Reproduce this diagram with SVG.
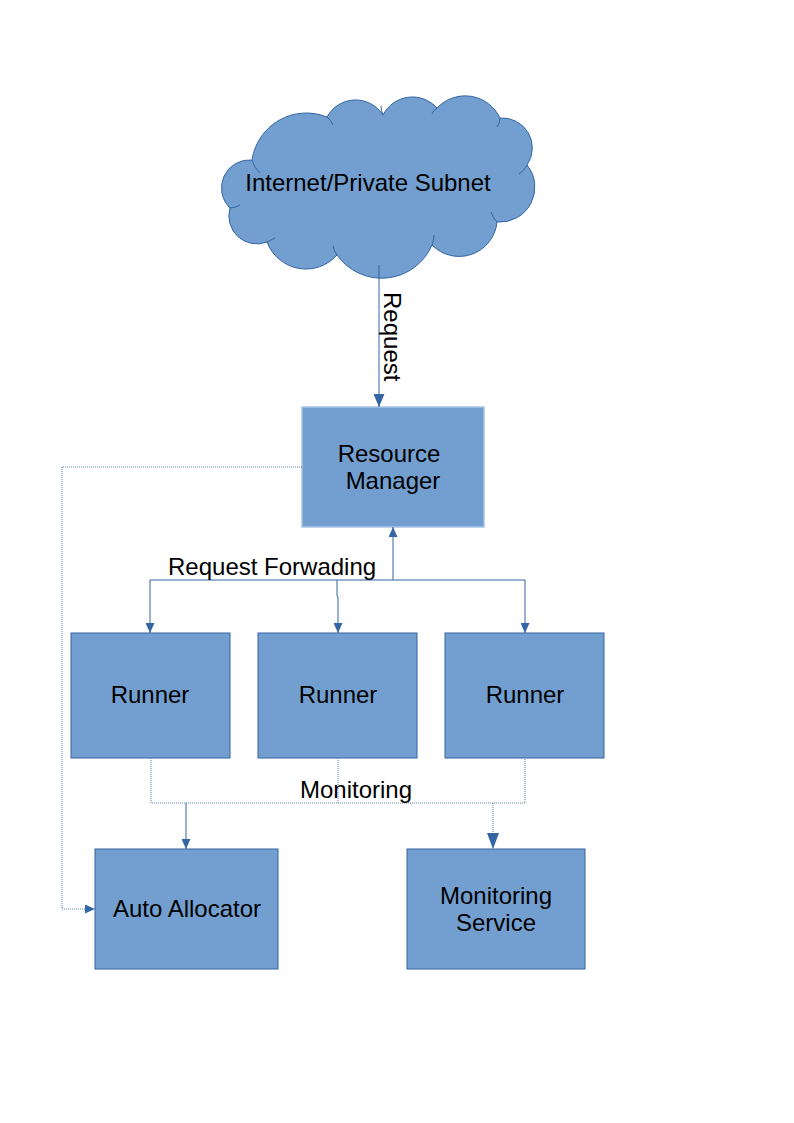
<svg xmlns="http://www.w3.org/2000/svg" width="794" height="1123" viewBox="0 0 794 1123">
<style>
.box{fill:#729fcf;stroke:#3465a4;stroke-width:1}
.rm{fill:#729fcf;stroke:#a8c4e6;stroke-width:1.5}
.t{font-family:"Liberation Sans",Arial,sans-serif;font-size:24px;fill:#000}
.c{text-anchor:middle}
.solid{fill:none;stroke:#3465a4;stroke-width:1}
.dot{fill:none;stroke:#5b7fb0;stroke-width:1;stroke-dasharray:1 1}
.inner{fill:none;stroke:#3465a4;stroke-width:1}
</style>
<defs>
<marker id="a" markerUnits="userSpaceOnUse" markerWidth="10" markerHeight="9" refX="10" refY="4.5" orient="auto"><path d="M0,0 L10,4.5 L0,9 z" fill="#3465a4"/></marker>
<marker id="aL" markerUnits="userSpaceOnUse" markerWidth="13" markerHeight="11" refX="13" refY="5.5" orient="auto"><path d="M0,0 L13,5.5 L0,11 z" fill="#3465a4"/></marker>
<marker id="aXL" markerUnits="userSpaceOnUse" markerWidth="16" markerHeight="12" refX="16" refY="6" orient="auto"><path d="M0,0 L16,6 L0,12 z" fill="#3465a4"/></marker>
</defs>
<rect width="794" height="1123" fill="#fff"/>
<g id="cloud">
<path class="box" d="M252,160 A55,55 0 0 1 327,117 A32.5,32.5 0 0 1 383,115 A33,33 0 0 1 437,108 A38.6,38.6 0 0 1 500,118 A30,30 0 0 1 527,165 A35,35 0 0 1 497,222 A38,38 0 0 1 432,245 A54.7,54.7 0 0 1 337,255 A41.5,41.5 0 0 1 267,242 A28,28 0 0 1 230,208 A28,28 0 0 1 252,160 Z"/>
<path class="inner" d="M252,160 q2,8 8,13 M327,117 q4,3 6,8 M383,115 q-2,-4 -2,-9 M437,108 q-4,3 -5,6 M500,118 q0,5 -3,9 M527,165 q-3,6 -8,9 M497,222 q-4,-4 -6,-10 M432,245 q2,-5 2,-10 M337,255 q-3,-4 -4,-9 M267,242 q4,-2 8,-4 M230,208 q5,0 10,-3"/>
<text class="t c" x="368" y="191">Internet/Private Subnet</text>
</g>
<g id="resource-manager">
<rect class="rm" x="302" y="407" width="182" height="120"/>
<text class="t c" x="389" y="462">Resource</text>
<text class="t c" x="393" y="489">Manager</text>
</g>
<g id="runner1"><rect class="box" x="71" y="633" width="159" height="125"/><text class="t c" x="150" y="703">Runner</text></g>
<g id="runner2"><rect class="box" x="258" y="633" width="159" height="125"/><text class="t c" x="338" y="703">Runner</text></g>
<g id="runner3"><rect class="box" x="445" y="633" width="159" height="125"/><text class="t c" x="525" y="703">Runner</text></g>
<g id="auto-allocator"><rect class="box" x="95" y="849" width="183" height="120"/><text class="t c" x="187" y="917">Auto Allocator</text></g>
<g id="monitoring-service"><rect class="box" x="407" y="849" width="178" height="120"/><text class="t c" x="496" y="904">Monitoring</text><text class="t c" x="496" y="931">Service</text></g>
<g id="connectors">
<path class="solid" d="M379,265 L379,407" marker-end="url(#aL)"/>
<text class="t" transform="translate(384,292) rotate(90)">Request</text>
<path class="solid" d="M393,580 L393,527" marker-end="url(#a)"/>
<path class="solid" d="M150,580 L525,580"/>
<path class="solid" d="M150,580 L150,633" marker-end="url(#a)"/>
<path class="solid" d="M337,580 L337,596 L338,597 L338,633" marker-end="url(#a)"/>
<path class="solid" d="M525,580 L525,633" marker-end="url(#a)"/>
<text class="t" x="168" y="575">Request Forwading</text>
<path class="dot" d="M151,758 L151,803 L525,803 L525,758"/>
<path class="dot" d="M338,758 L338,803"/>
<path class="solid" d="M186,803 L186,849" marker-end="url(#a)"/>
<path class="dot" d="M493,803 L493,849" marker-end="url(#aXL)"/>
<text class="t" x="300" y="798">Monitoring</text>
<path class="dot" d="M302,467 L62,467 L62,909 L95,909" marker-end="url(#a)"/>
</g>
</svg>
